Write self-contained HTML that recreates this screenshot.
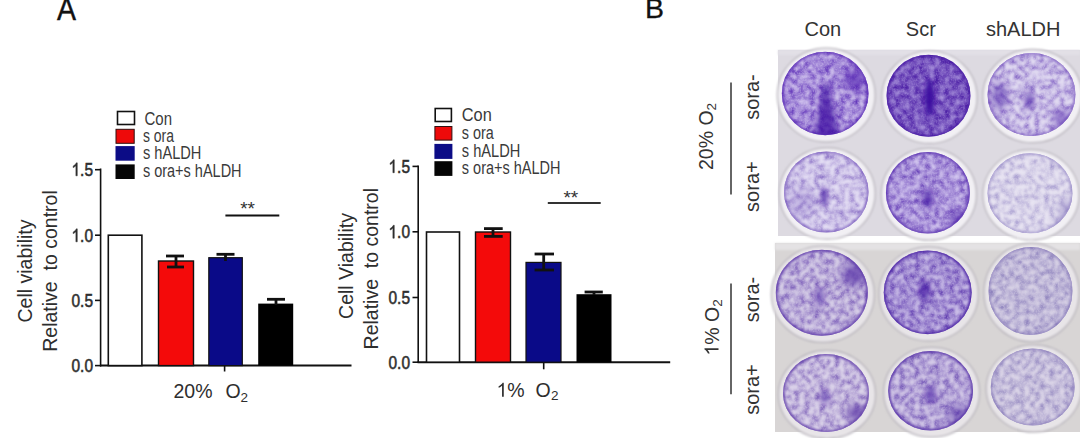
<!DOCTYPE html>
<html><head><meta charset="utf-8">
<style>
html,body{margin:0;padding:0;background:#fff;width:1080px;height:438px;overflow:hidden}
svg{position:absolute;left:0;top:0;display:block}
text{font-family:"Liberation Sans",sans-serif}
</style></head>
<body>
<svg width="1080" height="438" viewBox="0 0 1080 438">
<rect x="0" y="0" width="1080" height="438" fill="#fff"/>
<!-- panel letters -->
<text transform="translate(57,20.4) scale(1,1.07)" font-size="28.5" fill="#111" stroke="#111" stroke-width="0.4">A</text>
<text x="645" y="17.8" font-size="28.5" fill="#111" stroke="#111" stroke-width="0.3">B</text>

<!-- ========== LEFT CHART ========== -->
<g id="legL" fill="#3a3a3a">
  <rect x="117.5" y="111.5" width="17" height="13" fill="#fff" stroke="#111" stroke-width="1.6"/>
  <rect x="116" y="129.3" width="18.2" height="14" fill="#ee0a0a" stroke="#301010" stroke-width="1"/>
  <rect x="115.5" y="146.1" width="19.2" height="14.6" fill="#0c0c86"/>
  <rect x="115.5" y="164.4" width="19.2" height="14.6" fill="#050505"/>
  <text x="144.5" y="125.2" font-size="17.5" textLength="27.5" lengthAdjust="spacingAndGlyphs">Con</text>
  <text x="142.9" y="141.8" font-size="17.5" textLength="31" lengthAdjust="spacingAndGlyphs">s ora</text>
  <text x="142.9" y="159" font-size="17.5" textLength="58.5" lengthAdjust="spacingAndGlyphs">s hALDH</text>
  <text x="142.9" y="176.5" font-size="17.5" textLength="98.7" lengthAdjust="spacingAndGlyphs">s ora+s hALDH</text>
</g>
<g stroke="#111" fill="none">
  <line x1="100.6" y1="168.5" x2="100.6" y2="366.5" stroke-width="1.6"/>
  <line x1="95" y1="169.7" x2="100.6" y2="169.7" stroke-width="1.6"/>
  <line x1="95" y1="235.2" x2="100.6" y2="235.2" stroke-width="1.6"/>
  <line x1="95" y1="300.4" x2="100.6" y2="300.4" stroke-width="1.6"/>
  <line x1="95" y1="365.6" x2="100.6" y2="365.6" stroke-width="1.6"/>
  <line x1="100" y1="365.6" x2="351.5" y2="365.6" stroke-width="2"/>
  <line x1="224.6" y1="365.6" x2="224.6" y2="371.5" stroke-width="1.6"/>
</g>
<g fill="#2e2e2e" stroke="#2e2e2e" stroke-width="0.55" font-size="18" text-anchor="end">
  <g transform="translate(71.50,175.8) scale(0.8593,1)"><path d="M763 0H583V1147Q518 1085 412 1023T222 930V1104Q372 1175 484 1276T643 1471H763Z" transform="scale(0.008789,-0.008789)" stroke-width="62.6"/><text x="10.008" y="0" text-anchor="start">.5</text></g>
  <g transform="translate(71.50,241.8) scale(0.8593,1)"><path d="M763 0H583V1147Q518 1085 412 1023T222 930V1104Q372 1175 484 1276T643 1471H763Z" transform="scale(0.008789,-0.008789)" stroke-width="62.6"/><text x="10.008" y="0" text-anchor="start">.0</text></g>
  <text x="93" y="306.9" textLength="21.5" lengthAdjust="spacingAndGlyphs">0.5</text>
  <text x="93" y="372" textLength="21.5" lengthAdjust="spacingAndGlyphs">0.0</text>
</g>
<!-- bars -->
<rect x="108.3" y="235.2" width="33.6" height="130.4" fill="#fff" stroke="#111" stroke-width="1.6"/>
<rect x="158.5" y="261" width="35" height="104.6" fill="#f40a0a" stroke="#111" stroke-width="1.4"/>
<rect x="208.8" y="257.7" width="33.5" height="107.9" fill="#0a0a88" stroke="#111" stroke-width="1.2"/>
<rect x="258.2" y="303.6" width="35" height="62" fill="#000"/>
<g stroke="#111" stroke-width="2.8" fill="none">
  <line x1="176" y1="256" x2="176" y2="267"/><line x1="166" y1="256" x2="184" y2="256"/><line x1="167" y1="267" x2="184" y2="267"/>
  <line x1="225.5" y1="254.3" x2="225.5" y2="261"/><line x1="216.5" y1="254.3" x2="234.5" y2="254.3"/>
  <line x1="276" y1="299.3" x2="276" y2="305"/><line x1="267" y1="299.3" x2="285" y2="299.3"/>
</g>
<line x1="225.4" y1="215.4" x2="279.3" y2="215.4" stroke="#111" stroke-width="2"/>
<text x="247.6" y="214.5" font-size="19" text-anchor="middle" fill="#333">**</text>
<!-- y label -->
<g fill="#2e2e2e" font-size="19.5" text-anchor="middle">
  <text transform="translate(31.7,271) rotate(-90)">Cell viability</text>
  <text transform="translate(57.3,271) rotate(-90)">Relative&#160; to control</text>
</g>
<!-- x label -->
<g fill="#2e2e2e" font-size="19.5">
  <text x="173.5" y="398.3">20%</text>
  <text x="225.5" y="398.3">O</text>
  <text x="240.5" y="401.5" font-size="13.5">2</text>
</g>

<!-- ========== RIGHT CHART ========== -->
<g fill="#3a3a3a">
  <rect x="435.2" y="108.5" width="16.2" height="13" fill="#fff" stroke="#111" stroke-width="1.6"/>
  <rect x="434.9" y="126.5" width="17" height="13.6" fill="#ee0a0a" stroke="#301010" stroke-width="1"/>
  <rect x="434.4" y="143.9" width="18" height="15" fill="#0c0c86"/>
  <rect x="434.4" y="161.2" width="18" height="14.7" fill="#050505"/>
  <text x="461.8" y="120.6" font-size="17.5" textLength="30" lengthAdjust="spacingAndGlyphs">Con</text>
  <text x="461.8" y="139.4" font-size="17.5" textLength="32" lengthAdjust="spacingAndGlyphs">s ora</text>
  <text x="461.8" y="156.8" font-size="17.5" textLength="58.5" lengthAdjust="spacingAndGlyphs">s hALDH</text>
  <text x="461.8" y="174.2" font-size="17.5" textLength="98.7" lengthAdjust="spacingAndGlyphs">s ora+s hALDH</text>
</g>
<g stroke="#111" fill="none">
  <line x1="418.2" y1="165.5" x2="418.2" y2="363" stroke-width="1.6"/>
  <line x1="412.5" y1="166.4" x2="418.2" y2="166.4" stroke-width="1.6"/>
  <line x1="412.5" y1="231.8" x2="418.2" y2="231.8" stroke-width="1.6"/>
  <line x1="412.5" y1="297.5" x2="418.2" y2="297.5" stroke-width="1.6"/>
  <line x1="412.5" y1="362.2" x2="418.2" y2="362.2" stroke-width="1.6"/>
  <line x1="417.5" y1="362.2" x2="670.2" y2="362.2" stroke-width="2"/>
  <line x1="543.7" y1="362.2" x2="543.7" y2="369.3" stroke-width="1.6"/>
</g>
<g fill="#2e2e2e" stroke="#2e2e2e" stroke-width="0.55" font-size="18" text-anchor="end">
  <g transform="translate(388.50,172.7) scale(0.8593,1)"><path d="M763 0H583V1147Q518 1085 412 1023T222 930V1104Q372 1175 484 1276T643 1471H763Z" transform="scale(0.008789,-0.008789)" stroke-width="62.6"/><text x="10.008" y="0" text-anchor="start">.5</text></g>
  <g transform="translate(388.50,238.2) scale(0.8593,1)"><path d="M763 0H583V1147Q518 1085 412 1023T222 930V1104Q372 1175 484 1276T643 1471H763Z" transform="scale(0.008789,-0.008789)" stroke-width="62.6"/><text x="10.008" y="0" text-anchor="start">.0</text></g>
  <text x="410" y="303.9" textLength="21.5" lengthAdjust="spacingAndGlyphs">0.5</text>
  <text x="410" y="368.6" textLength="21.5" lengthAdjust="spacingAndGlyphs">0.0</text>
</g>
<rect x="426.5" y="232" width="33" height="130.2" fill="#fff" stroke="#111" stroke-width="1.6"/>
<rect x="475.5" y="232" width="35" height="130.2" fill="#f40a0a" stroke="#111" stroke-width="1.4"/>
<rect x="526" y="262.4" width="35" height="99.8" fill="#0a0a88" stroke="#111" stroke-width="1.2"/>
<rect x="576.5" y="294.2" width="35" height="68" fill="#000"/>
<g stroke="#111" stroke-width="2.8" fill="none">
  <line x1="493" y1="228.6" x2="493" y2="236.4"/><line x1="484" y1="228.6" x2="502.7" y2="228.6"/><line x1="484" y1="236.4" x2="502.7" y2="236.4"/>
  <line x1="543.7" y1="254" x2="543.7" y2="270"/><line x1="534.6" y1="254" x2="554" y2="254"/><line x1="534.6" y1="270" x2="554" y2="270"/>
  <line x1="594" y1="292" x2="594" y2="295"/><line x1="584.6" y1="292" x2="602.8" y2="292"/>
</g>
<line x1="547.8" y1="203.1" x2="600.7" y2="203.1" stroke="#333" stroke-width="2"/>
<text x="570.8" y="203.5" font-size="19" text-anchor="middle" fill="#333">**</text>
<g fill="#2e2e2e" font-size="19.5" text-anchor="middle">
  <text transform="translate(352.5,266) rotate(-90)">Cell Viability</text>
  <text transform="translate(378,268.7) rotate(-90)">Relative&#160; to control</text>
</g>
<g fill="#2e2e2e" font-size="19.5">
  <path d="M763 0H583V1147Q518 1085 412 1023T222 930V1104Q372 1175 484 1276T643 1471H763Z" transform="translate(496.5,396.7) scale(0.009521,-0.009521)"/><text x="507.34" y="396.7">%</text>
  <text x="535.5" y="396.7">O</text>
  <text x="551" y="399.7" font-size="13.5">2</text>
</g>

<!-- ========== PANEL B labels ========== -->
<g fill="#333" font-size="20">
  <text x="804.5" y="36.3">Con</text>
  <text x="905.8" y="36.3">Scr</text>
  <text x="986" y="36.3">shALDH</text>
</g>
<g stroke="#333" stroke-width="1.5">
  <line x1="731" y1="82.6" x2="731" y2="194.4"/>
  <line x1="731" y1="283.4" x2="731" y2="394.3"/>
</g>
<g fill="#333" font-size="20">
  <text transform="translate(759,97) rotate(-90)" text-anchor="middle">sora-</text>
  <text transform="translate(759,186.6) rotate(-90)" text-anchor="middle">sora+</text>
  <text transform="translate(759,299.5) rotate(-90)" text-anchor="middle">sora-</text>
  <text transform="translate(759,389.5) rotate(-90)" text-anchor="middle">sora+</text>
</g>
<g fill="#333" font-size="19.5">
  <text transform="translate(713,170) rotate(-90)">20% O<tspan font-size="13.5" dy="3">2</tspan></text>
  <g transform="translate(718.5,355.5) rotate(-90)"><path d="M763 0H583V1147Q518 1085 412 1023T222 930V1104Q372 1175 484 1276T643 1471H763Z" transform="scale(0.009521,-0.009521)"/><text x="10.84" y="0">% O<tspan font-size="13.5" dy="3">2</tspan></text></g>
</g>

<!-- PLATES placeholder -->
<g id="plates">
<defs>
<filter id="mt0" filterUnits="userSpaceOnUse" x="770" y="40" width="310" height="400"><feTurbulence type="fractalNoise" baseFrequency="0.2" numOctaves="4" seed="5" result="t"/><feColorMatrix in="t" type="matrix" values="0 0 0 0 0 0 0 0 0 0 0 0 0 0 0 1.9 0 0 0 -0.550" result="a"/><feGaussianBlur in="a" stdDeviation="0.8" result="ab"/><feComposite in="SourceGraphic" in2="ab" operator="in"/></filter>
<filter id="mt1" filterUnits="userSpaceOnUse" x="770" y="40" width="310" height="400"><feTurbulence type="fractalNoise" baseFrequency="0.2" numOctaves="4" seed="6" result="t"/><feColorMatrix in="t" type="matrix" values="0 0 0 0 0 0 0 0 0 0 0 0 0 0 0 1.9 0 0 0 -0.390" result="a"/><feGaussianBlur in="a" stdDeviation="0.8" result="ab"/><feComposite in="SourceGraphic" in2="ab" operator="in"/></filter>
<filter id="mt2" filterUnits="userSpaceOnUse" x="770" y="40" width="310" height="400"><feTurbulence type="fractalNoise" baseFrequency="0.2" numOctaves="4" seed="7" result="t"/><feColorMatrix in="t" type="matrix" values="0 0 0 0 0 0 0 0 0 0 0 0 0 0 0 1.9 0 0 0 -0.350" result="a"/><feGaussianBlur in="a" stdDeviation="0.8" result="ab"/><feComposite in="SourceGraphic" in2="ab" operator="in"/></filter>
<filter id="mt3" filterUnits="userSpaceOnUse" x="770" y="40" width="310" height="400"><feTurbulence type="fractalNoise" baseFrequency="0.2" numOctaves="4" seed="8" result="t"/><feColorMatrix in="t" type="matrix" values="0 0 0 0 0 0 0 0 0 0 0 0 0 0 0 1.9 0 0 0 -0.320" result="a"/><feGaussianBlur in="a" stdDeviation="0.8" result="ab"/><feComposite in="SourceGraphic" in2="ab" operator="in"/></filter>
<filter id="mt4" filterUnits="userSpaceOnUse" x="770" y="40" width="310" height="400"><feTurbulence type="fractalNoise" baseFrequency="0.2" numOctaves="4" seed="9" result="t"/><feColorMatrix in="t" type="matrix" values="0 0 0 0 0 0 0 0 0 0 0 0 0 0 0 1.9 0 0 0 -0.250" result="a"/><feGaussianBlur in="a" stdDeviation="0.8" result="ab"/><feComposite in="SourceGraphic" in2="ab" operator="in"/></filter>
<filter id="mt5" filterUnits="userSpaceOnUse" x="770" y="40" width="310" height="400"><feTurbulence type="fractalNoise" baseFrequency="0.2" numOctaves="4" seed="10" result="t"/><feColorMatrix in="t" type="matrix" values="0 0 0 0 0 0 0 0 0 0 0 0 0 0 0 1.9 0 0 0 -0.230" result="a"/><feGaussianBlur in="a" stdDeviation="0.8" result="ab"/><feComposite in="SourceGraphic" in2="ab" operator="in"/></filter>
<filter id="mt6" filterUnits="userSpaceOnUse" x="770" y="40" width="310" height="400"><feTurbulence type="fractalNoise" baseFrequency="0.2" numOctaves="4" seed="11" result="t"/><feColorMatrix in="t" type="matrix" values="0 0 0 0 0 0 0 0 0 0 0 0 0 0 0 1.9 0 0 0 -0.210" result="a"/><feGaussianBlur in="a" stdDeviation="0.8" result="ab"/><feComposite in="SourceGraphic" in2="ab" operator="in"/></filter>
<filter id="mt7" filterUnits="userSpaceOnUse" x="770" y="40" width="310" height="400"><feTurbulence type="fractalNoise" baseFrequency="0.2" numOctaves="4" seed="12" result="t"/><feColorMatrix in="t" type="matrix" values="0 0 0 0 0 0 0 0 0 0 0 0 0 0 0 1.9 0 0 0 -0.190" result="a"/><feGaussianBlur in="a" stdDeviation="0.8" result="ab"/><feComposite in="SourceGraphic" in2="ab" operator="in"/></filter>
<filter id="mt8" filterUnits="userSpaceOnUse" x="770" y="40" width="310" height="400"><feTurbulence type="fractalNoise" baseFrequency="0.2" numOctaves="4" seed="13" result="t"/><feColorMatrix in="t" type="matrix" values="0 0 0 0 0 0 0 0 0 0 0 0 0 0 0 1.9 0 0 0 -0.150" result="a"/><feGaussianBlur in="a" stdDeviation="0.8" result="ab"/><feComposite in="SourceGraphic" in2="ab" operator="in"/></filter>
<filter id="b2_5" x="-100%" y="-100%" width="300%" height="300%"><feGaussianBlur stdDeviation="2.5"/></filter>
<filter id="b3" x="-100%" y="-100%" width="300%" height="300%"><feGaussianBlur stdDeviation="3"/></filter>
<filter id="b4" x="-100%" y="-100%" width="300%" height="300%"><feGaussianBlur stdDeviation="4"/></filter>
<filter id="b5" x="-100%" y="-100%" width="300%" height="300%"><feGaussianBlur stdDeviation="5"/></filter>
<filter id="b6" x="-100%" y="-100%" width="300%" height="300%"><feGaussianBlur stdDeviation="6"/></filter>
<filter id="fs" filterUnits="userSpaceOnUse" x="770" y="40" width="310" height="400"><feTurbulence type="fractalNoise" baseFrequency="0.55" numOctaves="2" seed="99" result="t"/><feColorMatrix in="t" type="matrix" values="0 0 0 0 0 0 0 0 0 0 0 0 0 0 0 3 0 0 0 -1.3" result="a"/><feGaussianBlur in="a" stdDeviation="0.4" result="ab"/><feComposite in="SourceGraphic" in2="ab" operator="in"/></filter>
<filter id="bl2" x="-20%" y="-20%" width="140%" height="140%"><feGaussianBlur stdDeviation="1.8"/></filter>
<filter id="bl1" x="-20%" y="-20%" width="140%" height="140%"><feGaussianBlur stdDeviation="0.8"/></filter>
<filter id="bl4" x="-20%" y="-20%" width="140%" height="140%"><feGaussianBlur stdDeviation="4"/></filter>
<clipPath id="cw0"><ellipse cx="825.2" cy="93.5" rx="43.4" ry="41.7"/></clipPath>
<clipPath id="cw1"><ellipse cx="928.5" cy="95.7" rx="42" ry="41"/></clipPath>
<clipPath id="cw2"><ellipse cx="1031.5" cy="94.5" rx="44" ry="41.5"/></clipPath>
<clipPath id="cw3"><ellipse cx="826.3" cy="192.0" rx="42.3" ry="40.5"/></clipPath>
<clipPath id="cw4"><ellipse cx="927.9" cy="192.8" rx="42" ry="40.7"/></clipPath>
<clipPath id="cw5"><ellipse cx="1030.0" cy="193.3" rx="42.5" ry="40"/></clipPath>
<clipPath id="cw6"><ellipse cx="821.8" cy="292.7" rx="46" ry="43"/></clipPath>
<clipPath id="cw7"><ellipse cx="927.7" cy="292.4" rx="44" ry="41.8"/></clipPath>
<clipPath id="cw8"><ellipse cx="1030.5" cy="291.0" rx="42" ry="44"/></clipPath>
<clipPath id="cw9"><ellipse cx="826.0" cy="393.0" rx="43" ry="39"/></clipPath>
<clipPath id="cw10"><ellipse cx="930.6" cy="390.7" rx="42.4" ry="39.7"/></clipPath>
<clipPath id="cw11"><ellipse cx="1032.7" cy="387.0" rx="42" ry="38.5"/></clipPath>
</defs>
<rect x="778" y="50" width="302" height="186" fill="#dddae1"/>
<rect x="778" y="50" width="302" height="5" fill="#e2e0e6" filter="url(#bl1)"/>
<rect x="775" y="243" width="305" height="189" fill="#d8d5d5"/>
<rect x="775" y="243" width="305" height="7" fill="#e4e2e4" filter="url(#bl1)"/>
<ellipse cx="826.2" cy="95.0" rx="48.9" ry="46.900000000000006" fill="#f2f0f4" stroke="#b4b0b8" stroke-width="1.2" filter="url(#bl1)"/>
<g clip-path="url(#cw0)">
<rect x="781.8000000000001" y="51.8" width="86.8" height="83.4" fill="#5626b4"/>
<rect x="781.8000000000001" y="51.8" width="86.8" height="83.4" fill="#d6caf0" filter="url(#mt1)"/>
<rect x="781.8000000000001" y="51.8" width="86.8" height="83.4" fill="#d6caf0" filter="url(#fs)" opacity="0.4"/>
<ellipse cx="825.2" cy="93.5" rx="43.4" ry="41.7" fill="none" stroke="#5626b4" stroke-width="3.5" opacity="0.75" filter="url(#bl1)"/>
<path d="M823.2 83.5 L828.2 83.5 L839.2 137.5 L814.2 137.5 Z" fill="#3c10a0" opacity="0.75" filter="url(#b3)"/>
<circle cx="855.2" cy="79.5" r="11" fill="#5626b4" opacity="0.7" filter="url(#b5)"/>
</g>
<ellipse cx="929.5" cy="97.2" rx="47.5" ry="46.2" fill="#f2f0f4" stroke="#b4b0b8" stroke-width="1.2" filter="url(#bl1)"/>
<g clip-path="url(#cw1)">
<rect x="886.5" y="54.7" width="84" height="82" fill="#4a1ca4"/>
<rect x="886.5" y="54.7" width="84" height="82" fill="#b09ce0" filter="url(#mt0)"/>
<rect x="886.5" y="54.7" width="84" height="82" fill="#b09ce0" filter="url(#fs)" opacity="0.4"/>
<ellipse cx="928.5" cy="95.7" rx="42" ry="41" fill="none" stroke="#4a1ca4" stroke-width="3.5" opacity="0.85" filter="url(#bl1)"/>
<ellipse cx="929.5" cy="97.7" rx="5" ry="19" fill="#3c10a0" opacity="1.0" filter="url(#b2_5)"/>
</g>
<ellipse cx="1032.5" cy="96.0" rx="49.5" ry="46.7" fill="#f2f0f4" stroke="#b4b0b8" stroke-width="1.2" filter="url(#bl1)"/>
<g clip-path="url(#cw2)">
<rect x="987.5" y="53.0" width="88" height="83.0" fill="#6a44b8"/>
<rect x="987.5" y="53.0" width="88" height="83.0" fill="#e2dcf2" filter="url(#mt6)"/>
<rect x="987.5" y="53.0" width="88" height="83.0" fill="#e2dcf2" filter="url(#fs)" opacity="0.4"/>
<ellipse cx="1031.5" cy="94.5" rx="44" ry="41.5" fill="none" stroke="#6a44b8" stroke-width="3.5" opacity="0.55" filter="url(#bl1)"/>
<ellipse cx="999.5" cy="96.5" rx="8" ry="14" fill="#3c10a0" opacity="0.5" filter="url(#b5)"/>
<circle cx="1061.5" cy="118.5" r="9" fill="#6a44b8" opacity="0.65" filter="url(#b4)"/>
<ellipse cx="1029.5" cy="100.5" rx="4" ry="9" fill="#3c10a0" opacity="0.7" filter="url(#b3)"/>
</g>
<ellipse cx="827.3" cy="193.5" rx="47.8" ry="45.7" fill="#f2f0f4" stroke="#b4b0b8" stroke-width="1.2" filter="url(#bl1)"/>
<g clip-path="url(#cw3)">
<rect x="784.0" y="151.5" width="84.6" height="81.0" fill="#7050b8"/>
<rect x="784.0" y="151.5" width="84.6" height="81.0" fill="#e4def4" filter="url(#mt7)"/>
<rect x="784.0" y="151.5" width="84.6" height="81.0" fill="#e4def4" filter="url(#fs)" opacity="0.4"/>
<ellipse cx="826.3" cy="192.0" rx="42.3" ry="40.5" fill="none" stroke="#7050b8" stroke-width="3.5" opacity="0.6" filter="url(#bl1)"/>
<ellipse cx="824.3" cy="197.0" rx="3" ry="10" fill="#3c10a0" opacity="0.8" filter="url(#b2_5)"/>
<circle cx="801.3" cy="202.0" r="14" fill="#7050b8" opacity="0.25" filter="url(#b6)"/>
</g>
<ellipse cx="928.9" cy="194.3" rx="47.5" ry="45.900000000000006" fill="#f2f0f4" stroke="#b4b0b8" stroke-width="1.2" filter="url(#bl1)"/>
<g clip-path="url(#cw4)">
<rect x="885.9" y="152.10000000000002" width="84" height="81.4" fill="#5a30b0"/>
<rect x="885.9" y="152.10000000000002" width="84" height="81.4" fill="#d4c8f0" filter="url(#mt2)"/>
<rect x="885.9" y="152.10000000000002" width="84" height="81.4" fill="#d4c8f0" filter="url(#fs)" opacity="0.4"/>
<ellipse cx="927.9" cy="192.8" rx="42" ry="40.7" fill="none" stroke="#5a30b0" stroke-width="3.5" opacity="0.8" filter="url(#bl1)"/>
<ellipse cx="927.9" cy="198.8" rx="5" ry="9" fill="#3c10a0" opacity="0.8" filter="url(#b3)"/>
<circle cx="957.9" cy="218.8" r="7" fill="#5a30b0" opacity="0.8" filter="url(#b4)"/>
</g>
<ellipse cx="1031.0" cy="194.8" rx="48.0" ry="45.2" fill="#f2f0f4" stroke="#b4b0b8" stroke-width="1.2" filter="url(#bl1)"/>
<g clip-path="url(#cw5)">
<rect x="987.5" y="153.3" width="85.0" height="80" fill="#8a7cc0"/>
<rect x="987.5" y="153.3" width="85.0" height="80" fill="#e8e4f2" filter="url(#mt8)"/>
<rect x="987.5" y="153.3" width="85.0" height="80" fill="#e8e4f2" filter="url(#fs)" opacity="0.4"/>
<ellipse cx="1030.0" cy="193.3" rx="42.5" ry="40" fill="none" stroke="#8a7cc0" stroke-width="3.5" opacity="0.5" filter="url(#bl1)"/>
<circle cx="1066.0" cy="207.3" r="7" fill="#8a7cc0" opacity="0.6" filter="url(#b4)"/>
<circle cx="1062.0" cy="223.3" r="6" fill="#8a7cc0" opacity="0.6" filter="url(#b4)"/>
</g>
<ellipse cx="822.8" cy="294.2" rx="51.5" ry="48.2" fill="#e8e5e8" stroke="#b4b0b8" stroke-width="1.2" filter="url(#bl1)"/>
<g clip-path="url(#cw6)">
<rect x="775.8" y="249.7" width="92" height="86" fill="#5a34a8"/>
<rect x="775.8" y="249.7" width="92" height="86" fill="#d8d0e8" filter="url(#mt5)"/>
<rect x="775.8" y="249.7" width="92" height="86" fill="#d8d0e8" filter="url(#fs)" opacity="0.4"/>
<ellipse cx="821.8" cy="292.7" rx="46" ry="43" fill="none" stroke="#5a34a8" stroke-width="3.5" opacity="0.8" filter="url(#bl1)"/>
<circle cx="853.8" cy="274.7" r="11" fill="#5a34a8" opacity="0.8" filter="url(#b5)"/>
<ellipse cx="819.8" cy="296.7" rx="4" ry="10" fill="#3c10a0" opacity="0.6" filter="url(#b3)"/>
</g>
<ellipse cx="928.7" cy="293.9" rx="49.5" ry="47.0" fill="#e8e5e8" stroke="#b4b0b8" stroke-width="1.2" filter="url(#bl1)"/>
<g clip-path="url(#cw7)">
<rect x="883.7" y="250.59999999999997" width="88" height="83.6" fill="#4e26a6"/>
<rect x="883.7" y="250.59999999999997" width="88" height="83.6" fill="#cbbfe8" filter="url(#mt3)"/>
<rect x="883.7" y="250.59999999999997" width="88" height="83.6" fill="#cbbfe8" filter="url(#fs)" opacity="0.4"/>
<ellipse cx="927.7" cy="292.4" rx="44" ry="41.8" fill="none" stroke="#4e26a6" stroke-width="3.5" opacity="0.9" filter="url(#bl1)"/>
<ellipse cx="924.7" cy="290.4" rx="5" ry="10" fill="#3c10a0" opacity="0.8" filter="url(#b3)"/>
</g>
<ellipse cx="1031.5" cy="292.5" rx="47.5" ry="49.2" fill="#e8e5e8" stroke="#b4b0b8" stroke-width="1.2" filter="url(#bl1)"/>
<g clip-path="url(#cw8)">
<rect x="988.5" y="247.0" width="84" height="88" fill="#7a6cb2"/>
<rect x="988.5" y="247.0" width="84" height="88" fill="#d8d2e6" filter="url(#mt4)"/>
<rect x="988.5" y="247.0" width="84" height="88" fill="#d8d2e6" filter="url(#fs)" opacity="0.4"/>
<ellipse cx="1030.5" cy="291.0" rx="42" ry="44" fill="none" stroke="#7a6cb2" stroke-width="3.5" opacity="0.55" filter="url(#bl1)"/>
</g>
<ellipse cx="827.0" cy="394.5" rx="48.5" ry="44.2" fill="#e8e5e8" stroke="#b4b0b8" stroke-width="1.2" filter="url(#bl1)"/>
<g clip-path="url(#cw9)">
<rect x="783.0" y="354.0" width="86" height="78" fill="#5e3aa8"/>
<rect x="783.0" y="354.0" width="86" height="78" fill="#dcd4ea" filter="url(#mt7)"/>
<rect x="783.0" y="354.0" width="86" height="78" fill="#dcd4ea" filter="url(#fs)" opacity="0.4"/>
<ellipse cx="826.0" cy="393.0" rx="43" ry="39" fill="none" stroke="#5e3aa8" stroke-width="3.5" opacity="0.75" filter="url(#bl1)"/>
<circle cx="856.0" cy="413.0" r="9" fill="#5e3aa8" opacity="0.8" filter="url(#b4)"/>
<ellipse cx="825.0" cy="397.0" rx="4" ry="8" fill="#3c10a0" opacity="0.6" filter="url(#b3)"/>
</g>
<ellipse cx="931.6" cy="392.2" rx="47.9" ry="44.900000000000006" fill="#e8e5e8" stroke="#b4b0b8" stroke-width="1.2" filter="url(#bl1)"/>
<g clip-path="url(#cw10)">
<rect x="888.2" y="351.0" width="84.8" height="79.4" fill="#5834a8"/>
<rect x="888.2" y="351.0" width="84.8" height="79.4" fill="#d4cae8" filter="url(#mt4)"/>
<rect x="888.2" y="351.0" width="84.8" height="79.4" fill="#d4cae8" filter="url(#fs)" opacity="0.4"/>
<ellipse cx="930.6" cy="390.7" rx="42.4" ry="39.7" fill="none" stroke="#5834a8" stroke-width="3.5" opacity="0.85" filter="url(#bl1)"/>
<ellipse cx="930.6" cy="394.7" rx="5" ry="8" fill="#3c10a0" opacity="0.7" filter="url(#b3)"/>
<circle cx="958.6" cy="414.7" r="10" fill="#5834a8" opacity="0.6" filter="url(#b5)"/>
</g>
<ellipse cx="1033.7" cy="388.5" rx="47.5" ry="43.7" fill="#e8e5e8" stroke="#b4b0b8" stroke-width="1.2" filter="url(#bl1)"/>
<g clip-path="url(#cw11)">
<rect x="990.7" y="348.5" width="84" height="77.0" fill="#7e70b4"/>
<rect x="990.7" y="348.5" width="84" height="77.0" fill="#dcd6e8" filter="url(#mt5)"/>
<rect x="990.7" y="348.5" width="84" height="77.0" fill="#dcd6e8" filter="url(#fs)" opacity="0.4"/>
<ellipse cx="1032.7" cy="387.0" rx="42" ry="38.5" fill="none" stroke="#7e70b4" stroke-width="3.5" opacity="0.55" filter="url(#bl1)"/>
</g>
</g>
</svg>
</body></html>
